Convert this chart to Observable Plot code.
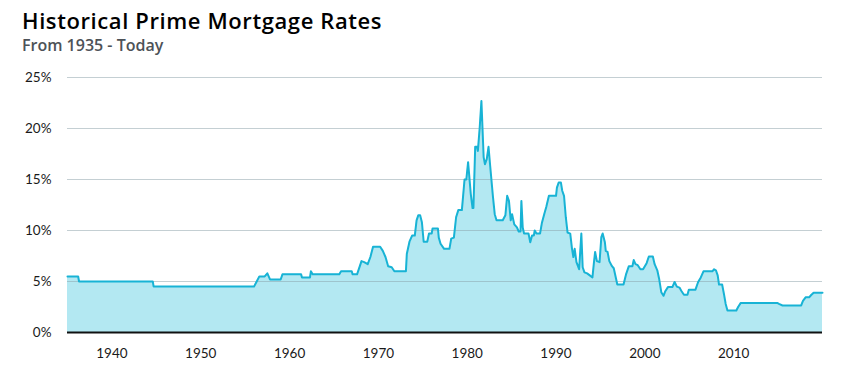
<!DOCTYPE html>
<html>
<head>
<meta charset="utf-8">
<script src="https://cdn.jsdelivr.net/npm/d3@7"></script>
<script src="https://cdn.jsdelivr.net/npm/@observablehq/plot@0.6"></script>
<style>
  html, body { margin: 0; padding: 0; background: #fff; }
  #wrap { position: relative; width: 849px; height: 375px; overflow: hidden; font-family: "Open Sans", Lato, sans-serif; }
  #title { position: absolute; left: 22px; top: 9px; font-size: 22px; line-height: 22px; font-weight: 600; letter-spacing: 0.6px; color: #000; white-space: nowrap; }
  #subtitle { position: absolute; left: 22px; top: 37px; font-size: 16px; line-height: 16px; font-weight: 600; color: #4d5257; white-space: nowrap; }
  #chart { position: absolute; left: 0; top: 60px; }
</style>
</head>
<body>
<div id="wrap">
  <div id="title">Historical Prime Mortgage Rates</div>
  <div id="subtitle">From 1935 - Today</div>
  <div id="chart"></div>
</div>
<script>
const years = [
  1935.0, 1936.2, 1936.3, 1944.6, 1944.7, 1956.0, 1956.3, 1956.6, 1957.2, 1957.5,
  1957.8, 1959.0, 1959.2, 1961.3, 1961.4, 1962.3, 1962.4, 1962.6, 1965.6, 1965.8,
  1967.0, 1967.1, 1967.6, 1968.1, 1968.4, 1968.8, 1969.1, 1969.4, 1970.2, 1970.5,
  1970.8, 1971.1, 1971.5, 1971.8, 1973.1, 1973.2, 1973.5, 1973.8, 1974.1, 1974.3,
  1974.5, 1974.7, 1974.9, 1975.1, 1975.5, 1975.7, 1976.0, 1976.1, 1976.7, 1976.8,
  1977.0, 1977.4, 1978.0, 1978.2, 1978.5, 1978.75, 1979.0, 1979.4, 1979.7, 1979.9,
  1980.1, 1980.4, 1980.6, 1980.7, 1980.9, 1981.1, 1981.2, 1981.4, 1981.6, 1981.85,
  1982.0, 1982.2, 1982.4, 1982.6, 1982.9, 1983.1, 1983.3, 1984.0, 1984.3, 1984.5,
  1984.7, 1984.9, 1985.05, 1985.3, 1985.6, 1985.8, 1986.0, 1986.1, 1986.25, 1986.4,
  1986.9, 1987.1, 1987.3, 1987.5, 1987.6, 1987.8, 1988.2, 1988.4, 1988.7, 1988.9,
  1989.2, 1990.0, 1990.1, 1990.3, 1990.55, 1990.7, 1990.9, 1991.1, 1991.3, 1991.6,
  1991.8, 1991.95, 1992.1, 1992.3, 1992.6, 1992.85, 1993.0, 1993.2, 1993.5, 1993.8,
  1994.1, 1994.25, 1994.4, 1994.6, 1994.9, 1995.1, 1995.25, 1995.5, 1995.6, 1995.8,
  1996.0, 1996.3, 1996.5, 1996.9, 1997.6, 1997.9, 1998.2, 1998.6, 1998.75, 1998.95,
  1999.2, 1999.5, 1999.8, 2000.2, 2000.45, 2000.9, 2001.1, 2001.4, 2001.6, 2001.85,
  2002.1, 2002.3, 2002.6, 2003.1, 2003.35, 2003.6, 2003.9, 2004.1, 2004.4, 2004.8,
  2004.95, 2005.7, 2006.0, 2006.3, 2006.6, 2007.6, 2007.8, 2008.0, 2008.2, 2008.35,
  2008.7, 2008.9, 2009.1, 2009.3, 2010.3, 2010.5, 2010.8, 2014.9, 2015.1, 2015.5,
  2017.6, 2017.8, 2018.1, 2018.5, 2018.7, 2019.0, 2020.0
];
const rates = [
  5.5, 5.5, 5.0, 5.0, 4.5, 4.5, 5.0, 5.5, 5.5, 5.8,
  5.2, 5.2, 5.7, 5.7, 5.4, 5.4, 6.0, 5.7, 5.7, 6.0,
  6.0, 5.7, 5.7, 7.0, 6.9, 6.7, 7.4, 8.4, 8.4, 8.0,
  7.4, 6.5, 6.4, 6.0, 6.0, 7.7, 8.9, 9.5, 9.5, 11.0,
  11.5, 11.5, 10.8, 8.9, 8.9, 9.7, 9.7, 10.2, 10.2, 9.3,
  8.7, 8.2, 8.2, 9.2, 9.3, 11.3, 12.0, 12.0, 15.0, 15.0,
  16.7, 13.6, 12.2, 12.2, 18.2, 18.2, 17.8, 20.0, 22.7, 17.2,
  16.5, 17.0, 18.2, 16.2, 13.3, 11.6, 11.0, 11.0, 11.5, 13.4,
  12.9, 11.0, 11.6, 10.6, 10.3, 9.9, 9.9, 12.9, 10.3, 9.7,
  9.7, 8.85, 9.5, 9.5, 10.0, 9.7, 9.7, 10.7, 11.7, 12.3,
  13.4, 13.4, 14.2, 14.7, 14.7, 13.9, 13.4, 11.3, 9.8, 9.7,
  8.2, 7.4, 8.2, 6.9, 6.2, 9.7, 6.4, 5.9, 5.8, 5.6,
  5.4, 6.7, 7.9, 7.0, 6.9, 9.35, 9.7, 8.85, 8.0, 7.9,
  7.0, 6.5, 6.3, 4.7, 4.7, 5.75, 6.5, 6.5, 7.1, 6.7,
  6.6, 6.2, 6.2, 6.8, 7.45, 7.45, 6.7, 6.1, 5.3, 3.95,
  3.6, 4.05, 4.45, 4.45, 4.95, 4.5, 4.4, 4.1, 3.7, 3.7,
  4.2, 4.2, 4.95, 5.4, 6.0, 6.0, 6.2, 6.1, 5.6, 4.7,
  4.7, 3.8, 2.8, 2.15, 2.15, 2.5, 2.9, 2.9, 2.8, 2.65,
  2.65, 3.1, 3.45, 3.45, 3.65, 3.9, 3.9
];
const xTicks = [1940, 1950, 1960, 1970, 1980, 1990, 2000, 2010];
const yTicks = [0, 5, 10, 15, 20, 25];
const gridValues = [5, 10, 15, 20, 25];

const data = years.map((year, i) => ({year, rate: rates[i]}));

const chart = Plot.plot({
  width: 849,
  height: 315,
  marginTop: 17,
  marginBottom: 43,
  marginLeft: 67,
  marginRight: 27,
  style: {fontFamily: "Lato, 'Open Sans', sans-serif", fontSize: "13.5px", color: "#1a1a1a", background: "#fff"},
  x: {domain: [1935, 2020], ticks: xTicks, tickFormat: d => String(d), tickSize: 0, tickPadding: 16, label: null},
  y: {domain: [0, 25], ticks: yTicks, tickFormat: d => d + "%", tickSize: 0, tickPadding: 16, label: null},
  marks: [
    Plot.areaY(data, {x: "year", y: "rate", fill: "#b3e8f2"}),
    Plot.ruleY(gridValues, {stroke: "#8aa0a8", strokeOpacity: 0.5, strokeWidth: 1}),
    Plot.lineY(data, {x: "year", y: "rate", stroke: "#18b3d5", strokeWidth: 2}),
    Plot.ruleY([0], {stroke: "#111", strokeWidth: 2})
  ]
});
document.getElementById("chart").appendChild(chart);
</script>
</body>
</html>
